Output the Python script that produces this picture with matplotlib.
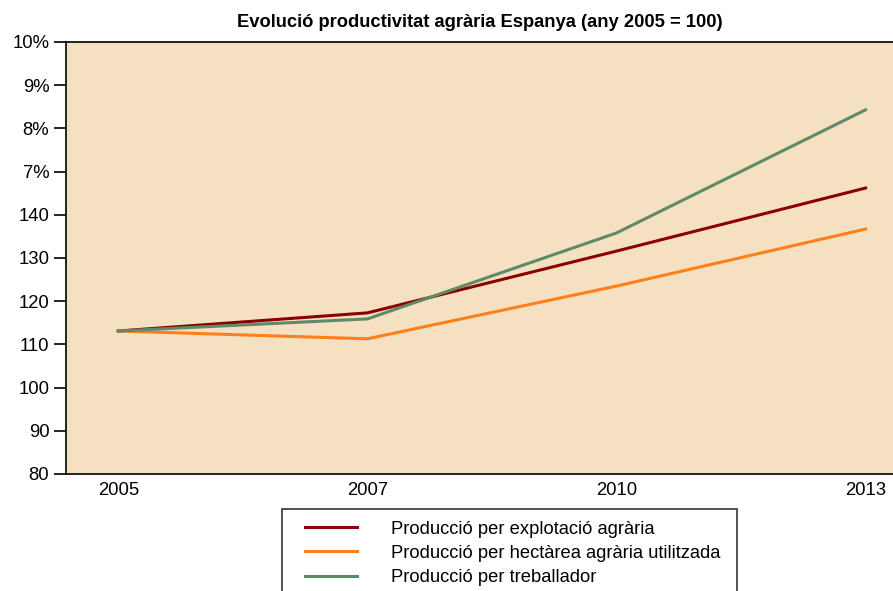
import matplotlib.pyplot as plt
from matplotlib.patches import Rectangle

plt.rcParams['font.family'] = ['Liberation Sans', 'DejaVu Sans']

years = ['2005', '2007', '2010', '2013']
per_explotacio = [113.1, 117.3, 131.6, 146.2]
per_hectarea = [113.1, 111.3, 123.5, 136.7]
per_treballador = [113.1, 115.9, 135.8, 164.3]

y_ticks = [80, 90, 100, 110, 120, 130, 140, 150, 160, 170, 180]
y_labels = ['80', '90', '100', '110', '120', '130', '140', '7%', '8%', '9%', '10%']

fig = plt.figure(figsize=(8.93, 5.91), dpi=100)
ax = fig.add_axes([66 / 893, 117 / 591, 827 / 893, 432 / 591])
ax.set_facecolor('#f5e1c2')

x = range(len(years))
ax.plot(x, per_explotacio, color='#8b0000', lw=2.2, label='Producció per explotació agrària')
ax.plot(x, per_hectarea, color='#ff7f1a', lw=2.2, label='Producció per hectàrea agrària utilitzada')
ax.plot(x, per_treballador, color='#5f8a6a', lw=2.2, label='Producció per treballador')

ax.set_xlim(-0.21, 3.11)
ax.set_ylim(80, 180)
ax.set_xticks(list(x))
ax.set_xticklabels(years, fontsize=13.3)
ax.set_yticks(y_ticks)
ax.set_yticklabels(y_labels, fontsize=13.3)
ax.tick_params(axis='x', length=0, pad=6)
ax.tick_params(axis='y', length=9, width=1.2, pad=3)
ax.spines['right'].set_visible(False)
for s in ['left', 'top', 'bottom']:
    ax.spines[s].set_linewidth(1.2)

ax.set_title('Evolució productivitat agrària Espanya (any 2005 = 100)',
             fontsize=13.2, fontweight='bold', pad=11)

# legend box runs off the bottom of the figure, so frame is drawn by hand
fig.legend(loc='upper left', bbox_to_anchor=(305 / 893, 1 - 520.5 / 591),
           fontsize=13.2, frameon=False, handlelength=2.84, handletextpad=1.86,
           borderpad=0, labelspacing=0.4, borderaxespad=0)
fig.add_artist(Rectangle((282 / 893, -0.05), (737 - 282) / 893, 1 - 509 / 591 + 0.05,
                         transform=fig.transFigure, fill=False,
                         edgecolor='#333333', lw=1.2))

fig.savefig('out.png', dpi=100)
